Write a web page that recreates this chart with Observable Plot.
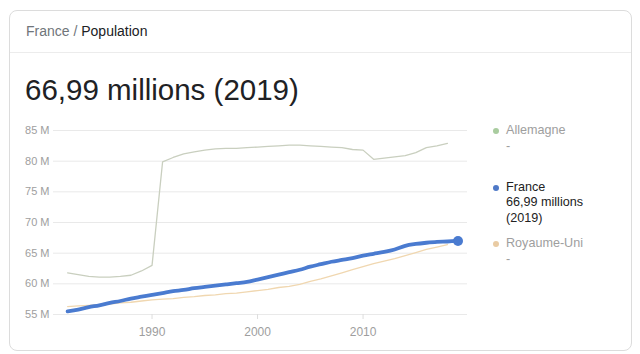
<!DOCTYPE html>
<html>
<head>
<meta charset="utf-8">
<script src="https://cdn.jsdelivr.net/npm/d3@7"></script>
<script src="https://cdn.jsdelivr.net/npm/@observablehq/plot@0.6"></script>
<style>
  html, body { margin: 0; padding: 0; background: #fff; }
  body { width: 640px; height: 354px; position: relative; overflow: hidden; font-family: "Liberation Sans", Arial, sans-serif; }
  .card { position: absolute; left: 9px; top: 10px; width: 623px; height: 341px; border: 1px solid #dcdcdc; border-radius: 8px; box-sizing: border-box; }
  .sep { position: absolute; left: 10px; top: 52px; width: 621px; height: 1px; background: #ececec; }
  .crumb { position: absolute; left: 26px; top: 22px; font-size: 14px; line-height: 18px; color: #70757a; white-space: nowrap; }
  .crumb b { font-weight: normal; color: #202124; }
  .title { position: absolute; left: 25px; top: 73px; font-size: 29.5px; line-height: 34px; color: #202124; white-space: nowrap; }
  #chart { position: absolute; left: 10px; top: 115px; }
  .leg { position: absolute; left: 506px; font-size: 12.6px; line-height: 15.3px; color: #9e9e9e; white-space: nowrap; }
  .leg .dot { position: absolute; left: -13px; top: 5px; width: 6px; height: 6px; border-radius: 50%; }
</style>
</head>
<body>
<div class="card"></div>
<div class="sep"></div>
<div class="crumb">France / <b>Population</b></div>
<div class="title">66,99 millions (2019)</div>
<div id="chart"></div>
<div id="legend"></div>
<script>
const years = [1982,1983,1984,1985,1986,1987,1988,1989,1990,1991,1992,1993,1994,1995,1996,1997,1998,1999,2000,2001,2002,2003,2004,2005,2006,2007,2008,2009,2010,2011,2012,2013,2014,2015,2016,2017,2018,2019];
// Allemagne (ends 2018)
const germany = [61.8,61.5,61.2,61.1,61.1,61.2,61.4,62.1,63.0,79.9,80.6,81.2,81.5,81.8,82.0,82.1,82.1,82.2,82.3,82.4,82.5,82.6,82.6,82.5,82.4,82.3,82.2,81.9,81.8,80.3,80.5,80.7,80.9,81.4,82.2,82.5,82.9];
// France (ends 2019)
const france = [55.5,55.8,56.2,56.5,56.9,57.2,57.6,57.9,58.2,58.5,58.8,59.0,59.3,59.5,59.7,59.9,60.1,60.3,60.7,61.1,61.5,61.9,62.3,62.8,63.2,63.6,63.9,64.2,64.6,64.9,65.2,65.6,66.2,66.5,66.7,66.85,66.9,66.99];
// Royaume-Uni (ends 2018)
const uk = [56.3,56.4,56.5,56.6,56.7,56.9,57.0,57.2,57.4,57.5,57.6,57.8,57.9,58.1,58.2,58.4,58.5,58.7,58.9,59.1,59.4,59.6,59.9,60.4,60.8,61.3,61.8,62.3,62.8,63.3,63.7,64.1,64.6,65.1,65.6,66.0,66.4];
const yTicks = [55,60,65,70,75,80,85];
const xTicks = [1990,2000,2010];
const seriesNames = ["Allemagne","France","Royaume-Uni"];
const seriesColors = ["#c9cfbf","#4a7bd0","#f0d7b0"];
const legendDots = ["#a9cc9f","#4f79c7","#e9cba3"];
const legendValues = ["-","66,99 millions<br>(2019)","-"];

const toRows = (vals) => vals.map((v, i) => ({year: years[i], value: v}));
const deRows = toRows(germany), frRows = toRows(france), ukRows = toRows(uk);
const frLast = frRows[frRows.length - 1];

const chart = Plot.plot({
  width: 470, height: 230,
  marginLeft: 43, marginRight: 13, marginTop: 15, marginBottom: 31,
  style: {fontFamily: "'Liberation Sans', Arial, sans-serif", fontSize: "11px", color: "#9e9e9e", background: "transparent", overflow: "visible"},
  x: {domain: [1980.66, 2019.9]},
  y: {domain: [55, 85]},
  marks: [
    Plot.gridY(yTicks, {stroke: "#e9e9e9", strokeOpacity: 1}),
    Plot.axisY(yTicks, {tickSize: 0, tickPadding: 4, tickFormat: d => `${d} M`, label: null, fill: "#9e9e9e"}),
    Plot.axisX(xTicks, {tickSize: 5, tickPadding: 8, tickFormat: d => String(d), label: null, stroke: "#dddddd", fill: "#9e9e9e", fontSize: 12}),
    Plot.line(deRows, {x: "year", y: "value", stroke: seriesColors[0], strokeWidth: 1.3}),
    Plot.line(ukRows, {x: "year", y: "value", stroke: seriesColors[2], strokeWidth: 1.3}),
    Plot.line(frRows, {x: "year", y: "value", stroke: seriesColors[1], strokeWidth: 3.8, curve: "monotone-x"}),
    Plot.dot([frLast], {x: "year", y: "value", r: 5, fill: seriesColors[1], stroke: "none"})
  ]
});
document.getElementById("chart").appendChild(chart);

const legendTops = [123.4, 180, 236.4];
const legend = document.getElementById("legend");
seriesNames.forEach((name, i) => {
  const div = document.createElement("div");
  div.className = "leg";
  div.style.top = legendTops[i] + "px";
  if (name === "France") div.style.color = "#222";
  div.innerHTML = `<span class="dot" style="background:${legendDots[i]}"></span>${name}<br>${legendValues[i]}`;
  legend.appendChild(div);
});
</script>
</body>
</html>
